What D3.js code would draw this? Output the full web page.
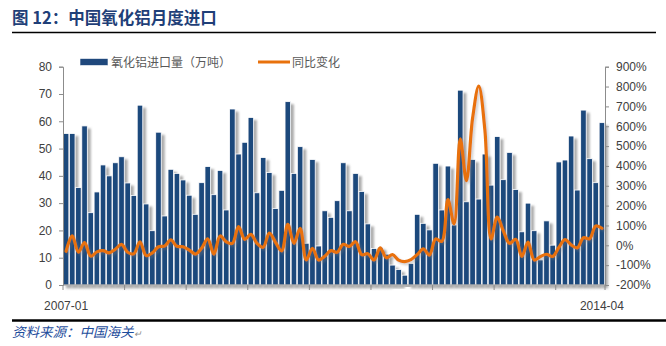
<!DOCTYPE html>
<html>
<head>
<meta charset="utf-8">
<script src="https://cdn.jsdelivr.net/npm/d3@7/dist/d3.min.js"></script>
<style>
  html, body { margin: 0; padding: 0; background: #ffffff; }
  svg { display: block; }
  text { font-family: "Liberation Sans", "Noto Sans CJK SC", sans-serif; }
  .cjk { font-family: "Noto Sans CJK SC", "Liberation Sans", sans-serif; }
</style>
</head>
<body>
<script>
// ---------------- DATA ----------------
const startMonth = "2007-01";
const endMonth = "2014-04";
const months = [];
for (let y = 2007; y <= 2014; y++) {
  for (let m = 1; m <= 12; m++) {
    const s = y + "-" + String(m).padStart(2, "0");
    months.push(s);
    if (s === endMonth) break;
  }
}
// 氧化铝进口量（万吨）
const importVolume = [
  55.5, 55.5, 35.7, 58.3, 26.5, 34.1, 44.0, 40.0, 44.8, 47.0, 37.4, 32.8,
  65.9, 29.7, 19.9, 56.0, 25.3, 42.4, 40.9, 38.5, 32.9, 25.9, 37.5, 43.4,
  33.1, 42.0, 27.5, 64.5, 48.0, 52.3, 61.4, 33.8, 46.7, 41.2, 28.0, 34.7,
  67.2, 40.9, 50.7, 15.3, 46.0, 14.3, 27.2, 24.8, 30.9, 44.8, 27.2, 40.9,
  34.3, 22.4, 13.4, 13.8, 11.3, 7.3, 5.7, 3.6, 7.9, 25.9, 22.6, 20.2,
  44.6, 27.5, 43.6, 22.0, 71.4, 30.5, 46.0, 31.5, 48.0, 36.6, 54.4, 38.6,
  48.6, 35.0, 19.5, 30.0, 19.9, 9.2, 23.5, 14.6, 45.1, 45.8, 54.6, 34.8,
  64.1, 46.3, 37.5, 59.5
];
// 同比变化 (%)
const yoyChange = [
  -30, 48, -35, 14, -55, -33, -27, -38, -20, 5, -35, -43,
  18, -52, -38, -7, -4, 27, -5, -7, -24, -44, -15, 32,
  -45, 47, 18, 10, 94, 30, 55, 10, -10, 62, 15, -28,
  105, 10, 86, -74, -15, -74, -55, -27, -35, 5, -5, 18,
  -47, -42, -74, -13, -63, -47, -75, -82, -72, -47, -18, -49,
  32, 20, 230, 108, 536, 326, 640, 802, 580, 32, 142, 72,
  10, 30, -56, 16, -74, -57, -45, -56, -11, 29, 2, -13,
  38, 33, 97, 86
];
const leftTicks = [0, 10, 20, 30, 40, 50, 60, 70, 80];
const rightTicks = [-200, -100, 0, 100, 200, 300, 400, 500, 600, 700, 800, 900];
const xLabelCats = [startMonth, endMonth];
const titleText = "图 12：中国氧化铝月度进口";
const sourceText = "资料来源：中国海关";
const legendBar = "氧化铝进口量（万吨）";
const legendLine = "同比变化";

// ---------------- LAYOUT ----------------
const W = 666, H = 346;
const plot = { left: 63, right: 605, top: 66.7, bottom: 285 };
const barColor = "#1f487c";
const lineColor = "#e8710c";
const axisColor = "#8c8c8c";
const labelColor = "#404040";

const svg = d3.select("body").append("svg").attr("width", W).attr("height", H);

const defs = svg.append("defs");
const f = defs.append("filter").attr("id", "shadow")
  .attr("x", "-50%").attr("y", "-10%").attr("width", "250%").attr("height", "130%");
f.append("feGaussianBlur").attr("in", "SourceAlpha").attr("stdDeviation", 1.3).attr("result", "b");
f.append("feOffset").attr("in", "b").attr("dx", 3.4).attr("dy", 3).attr("result", "o");
f.append("feFlood").attr("flood-color", "#7f7f7f").attr("flood-opacity", 0.65).attr("result", "c");
f.append("feComposite").attr("in", "c").attr("in2", "o").attr("operator", "in").attr("result", "s");
const fm = f.append("feMerge");
fm.append("feMergeNode").attr("in", "s");
fm.append("feMergeNode").attr("in", "SourceGraphic");

const f2 = defs.append("filter").attr("id", "lshadow")
  .attr("x", "-5%").attr("y", "-5%").attr("width", "110%").attr("height", "115%");
f2.append("feGaussianBlur").attr("in", "SourceAlpha").attr("stdDeviation", 1.2).attr("result", "b");
f2.append("feOffset").attr("in", "b").attr("dx", 1.5).attr("dy", 2).attr("result", "o");
f2.append("feFlood").attr("flood-color", "#7f7f7f").attr("flood-opacity", 0.35).attr("result", "c");
f2.append("feComposite").attr("in", "c").attr("in2", "o").attr("operator", "in").attr("result", "s");
const fm2 = f2.append("feMerge");
fm2.append("feMergeNode").attr("in", "s");
fm2.append("feMergeNode").attr("in", "SourceGraphic");

// scales
const x = d3.scaleBand().domain(months).range([plot.left, plot.right]).paddingInner(0.1).paddingOuter(0.05);
const xStep = d3.scaleBand().domain(months).range([plot.left, plot.right]);
const yL = d3.scaleLinear().domain([0, 80]).range([plot.bottom, plot.top]);
const yR = d3.scaleLinear().domain([-200, 900]).range([plot.bottom, plot.top]);

// title
svg.append("text").attr("class", "cjk").attr("x", 12).attr("y", 24)
  .attr("font-size", 16.5).attr("font-weight", "bold").attr("fill", "#1f3f78")
  .text(titleText);
svg.append("line").attr("x1", 12).attr("x2", 656).attr("y1", 32.5).attr("y2", 32.5)
  .attr("stroke", "#000").attr("stroke-width", 1.5);

// bars
svg.append("g").selectAll("rect").data(importVolume).join("rect")
  .attr("x", (d, i) => x(months[i]))
  .attr("y", d => yL(d))
  .attr("width", x.bandwidth())
  .attr("height", d => yL(0) - yL(d))
  .attr("fill", barColor)
  .attr("stroke", "#ffffff").attr("stroke-width", 0.8)
  .attr("filter", "url(#shadow)");

// line
const line = d3.line()
  .x((d, i) => xStep(months[i]) + xStep.bandwidth() / 2)
  .y(d => yR(d))
  .curve(d3.curveCatmullRom.alpha(0.5));
svg.append("path").datum(yoyChange)
  .attr("d", line).attr("fill", "none")
  .attr("stroke", lineColor).attr("stroke-width", 3.2)
  .attr("stroke-linejoin", "round").attr("stroke-linecap", "round")
  .attr("filter", "url(#lshadow)");

// left axis
const gL = svg.append("g").attr("transform", `translate(${plot.left},0)`)
  .call(d3.axisLeft(yL).tickValues(leftTicks).tickSize(4).tickPadding(7).tickFormat(d3.format("d")));
gL.select(".domain").attr("stroke", axisColor);
gL.selectAll(".tick line").attr("stroke", axisColor);
gL.selectAll("text").attr("font-size", 12).attr("fill", labelColor)
  .style("font-family", "Liberation Sans, sans-serif");

// right axis
const gR = svg.append("g").attr("transform", `translate(${plot.right},0)`)
  .call(d3.axisRight(yR).tickValues(rightTicks).tickSize(4).tickPadding(7).tickFormat(d => d + "%"));
gR.select(".domain").attr("stroke", axisColor);
gR.selectAll(".tick line").attr("stroke", axisColor);
gR.selectAll("text").attr("font-size", 12).attr("fill", labelColor)
  .style("font-family", "Liberation Sans, sans-serif");

// x axis
const tickCats = months.filter((m, i) => i % 10 === 0);
const gX = svg.append("g").attr("transform", `translate(0,${plot.bottom})`);
gX.append("line").attr("x1", plot.left).attr("x2", plot.right).attr("y1", 0).attr("y2", 0)
  .attr("stroke", axisColor);
gX.selectAll("line.tk").data(tickCats.concat(["__end"])).join("line").attr("class", "tk")
  .attr("x1", d => d === "__end" ? plot.right : xStep(d))
  .attr("x2", d => d === "__end" ? plot.right : xStep(d))
  .attr("y1", 0).attr("y2", 5).attr("stroke", axisColor);
gX.selectAll("text").data(xLabelCats).join("text")
  .attr("x", d => xStep(d) + xStep.bandwidth() / 2)
  .attr("y", 25).attr("text-anchor", "middle")
  .attr("font-size", 12).attr("fill", labelColor)
  .text(d => d);

// legend
const lg = svg.append("g");
lg.append("rect").attr("x", 80).attr("y", 58.5).attr("width", 28).attr("height", 7)
  .attr("fill", barColor).attr("stroke", "#fff").attr("stroke-width", 0.6);
lg.append("text").attr("class", "cjk").attr("x", 111).attr("y", 66.5)
  .attr("font-size", 12).attr("fill", "#595959").text(legendBar);
lg.append("line").attr("x1", 258).attr("x2", 290).attr("y1", 62).attr("y2", 62)
  .attr("stroke", lineColor).attr("stroke-width", 3);
lg.append("text").attr("class", "cjk").attr("x", 292).attr("y", 66.5)
  .attr("font-size", 12).attr("fill", "#595959").text(legendLine);

// bottom rule & source
svg.append("line").attr("x1", 12).attr("x2", 666).attr("y1", 320.5).attr("y2", 320.5)
  .attr("stroke", "#000").attr("stroke-width", 2.5);
const src = svg.append("text").attr("class", "cjk").attr("x", 12).attr("y", 337)
  .attr("font-size", 13.5).attr("font-style", "italic").attr("fill", "#1f4e9c");
src.append("tspan").text(sourceText);
src.append("tspan").attr("fill", "#8c8c8c").attr("font-size", 9).text("↵");
</script>
</body>
</html>
